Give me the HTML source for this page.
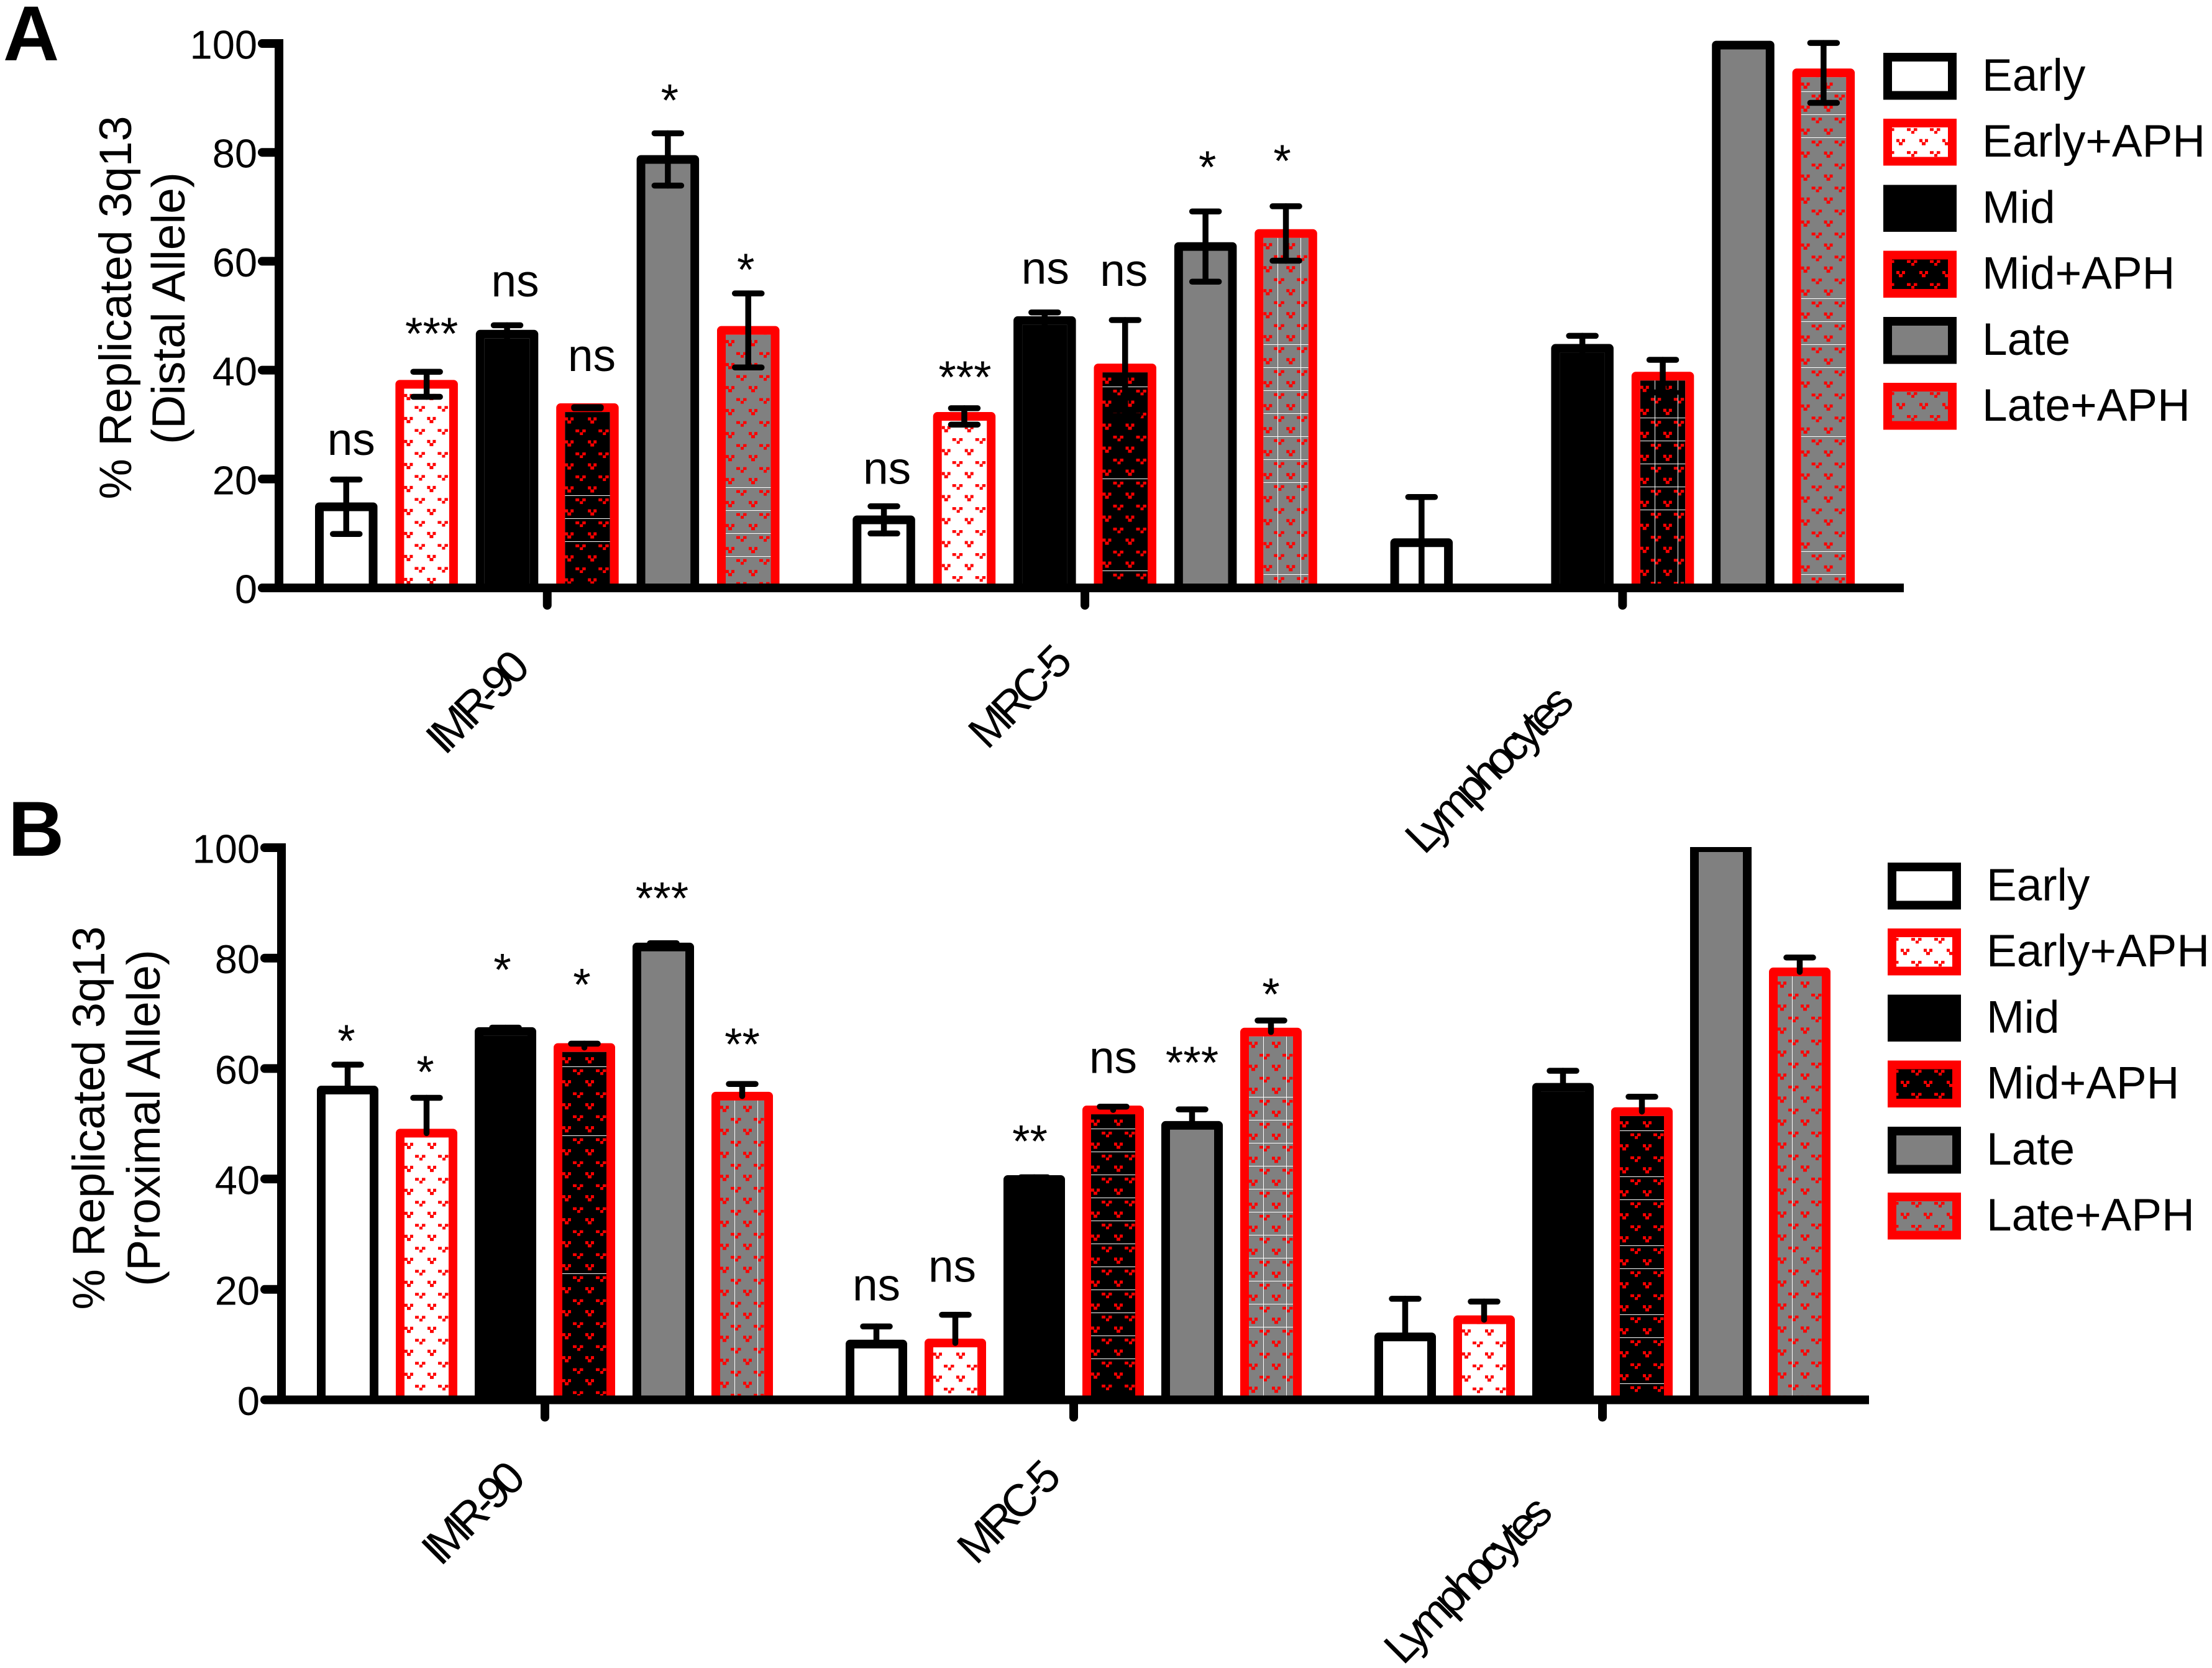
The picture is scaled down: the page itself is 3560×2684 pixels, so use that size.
<!DOCTYPE html>
<html>
<head>
<meta charset="utf-8">
<title>Replication of 3q13 alleles</title>
<style>
html,body{margin:0;padding:0;background:#fff;}
svg{display:block;}
text{font-family:"Liberation Sans",Arial,sans-serif;fill:#000;}
</style>
</head>
<body>
<svg id="chart" xmlns="http://www.w3.org/2000/svg" width="3560" height="2684" viewBox="0 0 3560 2684">
<rect x="0" y="0" width="3560" height="2684" fill="#fff"/>
<defs id="defs"><clipPath id="clipB"><rect x="0" y="1363" width="3560" height="1000"/></clipPath></defs>
<text x="5" y="97" font-size="125" font-weight="bold">A</text>
<text x="13" y="1377" font-size="125" font-weight="bold">B</text>
<text transform="translate(211,495) rotate(-90)" text-anchor="middle" font-size="73.5">% Replicated 3q13</text>
<text transform="translate(297,496) rotate(-90)" text-anchor="middle" font-size="75">(Distal Allele)</text>
<text transform="translate(168,1799) rotate(-90)" text-anchor="middle" font-size="73.5">% Replicated 3q13</text>
<text transform="translate(257,1799) rotate(-90)" text-anchor="middle" font-size="75">(Proximal Allele)</text>
<g id="panelA"></g>
<g id="panelB"></g>
</svg>
<script>
// ---- shared categories and ticks ----
const categories = ['IMR-90', 'MRC-5', 'Lymphocytes'];
const conditions = ['Early', 'Early+APH', 'Mid', 'Mid+APH', 'Late', 'Late+APH'];
const yTickValues = [0, 20, 40, 60, 80, 100];

// ---- panel A: distal allele ----
const distalImr90Means = [14.9, 37.4, 46.6, 33.1, 78.7, 47.3];
const distalImr90Errors = [5.0, 2.3, 1.65, 0.1, 4.8, 6.8];
const distalImr90Sig = ['ns', '***', 'ns', 'ns', '*', '*'];
const distalMrc5Means = [12.5, 31.5, 49.1, 40.4, 62.7, 65.1];
const distalMrc5Errors = [2.5, 1.5, 1.5, 8.8, 6.45, 5.0];
const distalMrc5Sig = ['ns', '***', 'ns', 'ns', '*', '*'];
const distalLymphMeans = [8.3, 0, 44.0, 38.9, 99.7, 94.6];
const distalLymphErrors = [8.4, 0, 2.3, 3.0, 0, 5.5];
const distalLymphSig = ['', '', '', '', '', ''];

// ---- panel B: proximal allele ----
const proximalImr90Means = [56.1, 48.3, 66.7, 63.8, 82.0, 55.0];
const proximalImr90Errors = [4.6, 6.4, 0.7, 0.7, 0.7, 2.2];
const proximalImr90Sig = ['*', '*', '*', '*', '***', '**'];
const proximalMrc5Means = [10.1, 10.3, 39.9, 52.5, 49.7, 66.6];
const proximalMrc5Errors = [3.2, 5.1, 0.4, 0.6, 2.9, 2.1];
const proximalMrc5Sig = ['ns', 'ns', '**', 'ns', '***', '*'];
const proximalLymphMeans = [11.4, 14.5, 56.6, 52.2, 100, 77.5];
const proximalLymphErrors = [6.9, 3.3, 3.0, 2.7, 0, 2.6];
const proximalLymphSig = ['', '', '', '', '', ''];

// ---- layout (not data) ----
const svgNS = 'http://www.w3.org/2000/svg';
const defs = document.getElementById('defs');
const RED = '#ff0000', GREY = '#808080', TILE = 37;
const sigLayoutA = [
  [[8, 39.5], [8, 36], [13, 46.5], [7, 58], [3, 28], [-4, 13]],
  [[5, 36], [1, 25], [1, 46], [-2, 55], [3, 46], [-6, 48]],
  [[0, 0], [0, 0], [0, 0], [0, 0], [0, 0], [0, 0]]
];
const sigLayoutB = [
  [[-2, 13], [-2, 16.5], [-5, 68], [-4, 70], [-2, 47], [0, 39]],
  [[0, 42], [-5, 53], [-7, 33], [0, 54], [0, 50], [0, 17]],
  [[0, 0], [0, 0], [0, 0], [0, 0], [0, 0], [0, 0]]
];
const seamsA = {
  '0-3': {rows: [4, 5, 6], cols: []},
  '0-5': {rows: [7, 8, 9, 10], cols: []},
  '1-3': {rows: [1, 5, 9], cols: []},
  '1-5': {rows: [5, 6, 7, 8, 9, 10, 11, 15], cols: [0, 1]},
  '2-3': {rows: [2, 3, 4, 5, 6], cols: [0, 1]},
  '2-5': {rows: [1, 2, 3, 10, 11, 12, 13, 16, 21, 22], cols: []}
};
const seamsB = {
  '0-3': {rows: [1, 4, 10], cols: []},
  '0-5': {rows: [], cols: [0, 1]},
  '1-3': {rows: [1, 2, 3, 4, 5, 6, 7, 8, 9, 10, 11], cols: []},
  '1-5': {rows: [3, 4, 5, 6, 7, 8, 9, 10, 11, 12, 13], cols: [0, 1]},
  '2-3': {rows: [1, 3, 4, 6, 7, 9, 10, 12], cols: []},
  '2-5': {rows: [], cols: [0]}
};

function mk(tag, attrs, parent) {
  const el = document.createElementNS(svgNS, tag);
  for (const k in attrs) el.setAttribute(k, attrs[k]);
  parent.appendChild(el);
  return el;
}

function makePattern(id, px, py, base) {
  const p = mk('pattern', {id: id, patternUnits: 'userSpaceOnUse', x: px, y: py, width: TILE, height: TILE}, defs);
  mk('rect', {x: 0, y: 0, width: 5, height: 5, fill: RED, 'shape-rendering': 'crispEdges'}, p);
  mk('rect', {x: 9, y: 0, width: 5, height: 5, fill: RED, 'shape-rendering': 'crispEdges'}, p);
  mk('rect', {x: 4, y: 5, width: 6, height: 5, fill: RED, 'shape-rendering': 'crispEdges'}, p);
  mk('rect', {x: 17, y: 19.5, width: 6, height: 4.5, fill: RED, 'shape-rendering': 'crispEdges'}, p);
  mk('rect', {x: 28, y: 19.5, width: 5.5, height: 4.5, fill: RED, 'shape-rendering': 'crispEdges'}, p);
  mk('rect', {x: 24, y: 24, width: 5, height: 4.5, fill: RED, 'shape-rendering': 'crispEdges'}, p);
  return p;
}

function styleOf(i) {
  const red = i % 2 === 1;
  const group = Math.floor(i / 2);
  const fill = group === 0 ? '#ffffff' : group === 1 ? '#000000' : GREY;
  return {stroke: red ? RED : '#000000', fill: fill, patterned: red};
}

function drawPanel(cfg) {
  const root = document.getElementById(cfg.rootId);
  const yScale = v => cfg.y0 - v * cfg.k;
  const barX = (g, i) => cfg.x0 + g * cfg.step + i * cfg.pitch;

  const bars = mk('g', cfg.clip ? {'clip-path': cfg.clip} : {}, root);
  
  
  const overlays = mk('g', {}, root);
  
  

  categories.forEach((cat, g) => {
    conditions.forEach((cond, i) => {
      const mean = cfg.means[g][i];
      const err = cfg.errors[g][i];
      const x = barX(g, i);
      const cx = x + cfg.w / 2;
      const st = styleOf(i);
      const slug = cat.toLowerCase() + '-' + cond.toLowerCase().replace('+', '-');
      if (mean > 0) {
        const yc = yScale(mean);
        const top = yc - 7;
        const inner = {x: x + 14, y: yc + 7, width: cfg.w - 28, height: Math.max(0, cfg.y0 - yc - 7)};
        const base = mk('rect', {x: inner.x, y: inner.y, width: inner.width, height: inner.height, fill: st.fill}, bars);
        
        
        if (st.patterned) {
          const id = cfg.rootId + '-p-' + g + '-' + i;
          makePattern(id, inner.x, top + 22.5);
          const pat = mk('rect', {x: inner.x, y: inner.y, width: inner.width, height: inner.height, fill: 'url(#' + id + ')'}, bars);
          
          
          const seam = cfg.seams[g + '-' + i];
          if (seam) {
            seam.rows.forEach(n => {
              const sy = Math.round(top + n * TILE);
              if (sy > inner.y && sy < cfg.y0) {
                const ln = mk('rect', {x: inner.x, y: sy, width: inner.width, height: 1, fill: '#ffffff'}, bars);
                
                
              }
            });
            seam.cols.forEach(n => {
              const sx = Math.round(inner.x + 23 + n * TILE);
              const ln = mk('rect', {x: sx, y: inner.y, width: 1, height: inner.height, fill: '#ffffff'}, bars);
              
              
            });
          }
        }
        const d = 'M' + (x + 7) + ' ' + cfg.y0 + 'V' + yc + 'H' + (x + cfg.w - 7) + 'V' + cfg.y0;
        const bar = mk('path', {d: d, fill: 'none', stroke: st.stroke, 'stroke-width': 14, 'stroke-linejoin': 'round'}, bars);
        
        
      }
      if (mean > 0 && err > 0) {
        const yc = yScale(mean);
        const yUp = yScale(mean + err);
        const yLow = yScale(Math.max(0, mean - err));
        const eb = mk('g', {stroke: '#000', fill: 'none', 'stroke-linecap': 'round'}, overlays);
        
        
        mk('line', {x1: cx, x2: cx, y1: yUp, y2: cfg.bothWays ? yLow : yc, 'stroke-width': 9.5}, eb);
        mk('line', {x1: cx - 21.5, x2: cx + 21.5, y1: yUp, y2: yUp, 'stroke-width': 9.5}, eb);
        if (cfg.bothWays) {
          mk('line', {x1: cx - 21.5, x2: cx + 21.5, y1: yLow, y2: yLow, 'stroke-width': 9.5}, eb);
        }
      }
      const sig = cfg.sig[g][i];
      if (sig) {
        const off = cfg.sigLayout[g][i];
        const t = mk('text', {x: cx + off[0], y: yScale(mean + err) - off[1], 'text-anchor': 'middle', 'font-size': 73}, overlays);
        t.textContent = sig;
        
        
      }
    });
  });

  // axes
  const axes = mk('g', {stroke: '#000', fill: 'none'}, root);
  
  
  const yAxis = mk('line', {x1: cfg.axisX, x2: cfg.axisX, y1: yScale(100) - 7, y2: cfg.y0, 'stroke-width': 14}, axes);
  
  
  const xAxis = mk('line', {x1: cfg.axisX - 27, x2: cfg.xEnd, y1: cfg.y0, y2: cfg.y0, 'stroke-width': 14}, axes);
  
  
  mk('circle', {cx: cfg.axisX - 27, cy: cfg.y0, r: 7, fill: '#000', stroke: 'none'}, axes);

  yTickValues.forEach(v => {
    const y = yScale(v);
    if (v !== 0) {
      const tick = mk('line', {x1: cfg.axisX, x2: cfg.axisX - 27, y1: y, y2: y, 'stroke-width': 14, 'stroke-linecap': 'round'}, axes);
      
      
    }
    const lab = mk('text', {x: cfg.axisX - 35, y: y + 24.5, 'text-anchor': 'end', 'font-size': 65, stroke: 'none'}, root);
    lab.textContent = String(v);
    
    
  });

  categories.forEach((cat, g) => {
    const tx = barX(g, 0) + (5 * cfg.pitch + cfg.w) / 2;
    const tick = mk('line', {x1: tx, x2: tx, y1: cfg.y0, y2: cfg.y0 + 28, 'stroke-width': 14, 'stroke-linecap': 'round'}, axes);
    
    
    const o = cfg.catOrigins[g];
    const lab = mk('text', {transform: 'translate(' + o[0] + ',' + o[1] + ') rotate(-45)', 'font-size': 73, 'letter-spacing': '-8.2'}, root);
    lab.textContent = cat;
    
    
  });

  // legend
  const legend = mk('g', {}, root);
  
  
  conditions.forEach((cond, i) => {
    const st = styleOf(i);
    const top = cfg.legendY + i * 106.2;
    const entry = mk('g', {}, legend);
    
    
    mk('rect', {x: cfg.legendX, y: top, width: 118, height: 75.5, fill: st.stroke, 'shape-rendering': 'crispEdges'}, entry);
    mk('rect', {x: cfg.legendX + 14, y: top + 14, width: 90, height: 47.5, fill: st.fill, 'shape-rendering': 'crispEdges'}, entry);
    if (st.patterned) {
      const id = cfg.rootId + '-lp-' + i;
      makePattern(id, cfg.legendX + 21, top + 32.5);
      mk('rect', {x: cfg.legendX + 14, y: top + 14, width: 90, height: 47.5, fill: 'url(#' + id + ')'}, entry);
    }
    const t = mk('text', {x: cfg.legendX + 159, y: top + 61, 'font-size': 73}, entry);
    t.textContent = cond;
  });
}

drawPanel({
  rootId: 'panelA', y0: 946, k: 8.76, x0: 507, w: 100.5, step: 865.3, pitch: 129.4,
  axisX: 449, xEnd: 3064, bothWays: true, clip: null,
  means: [distalImr90Means, distalMrc5Means, distalLymphMeans],
  errors: [distalImr90Errors, distalMrc5Errors, distalLymphErrors],
  sig: [distalImr90Sig, distalMrc5Sig, distalLymphSig],
  sigLayout: sigLayoutA, seams: seamsA,
  catOrigins: [[716, 1217], [1589, 1208], [2292, 1377]],
  legendX: 3031, legendY: 85
});
drawPanel({
  rootId: 'panelB', y0: 2252.5, k: 8.885, x0: 510, w: 99, step: 851, pitch: 127,
  axisX: 453, xEnd: 3008, bothWays: false, clip: 'url(#clipB)',
  means: [proximalImr90Means, proximalMrc5Means, proximalLymphMeans],
  errors: [proximalImr90Errors, proximalMrc5Errors, proximalLymphErrors],
  sig: [proximalImr90Sig, proximalMrc5Sig, proximalLymphSig],
  sigLayout: sigLayoutB, seams: seamsB,
  catOrigins: [[709, 2522], [1571, 2520], [2258, 2681]],
  legendX: 3038, legendY: 1388
});
</script>
</body>
</html>
